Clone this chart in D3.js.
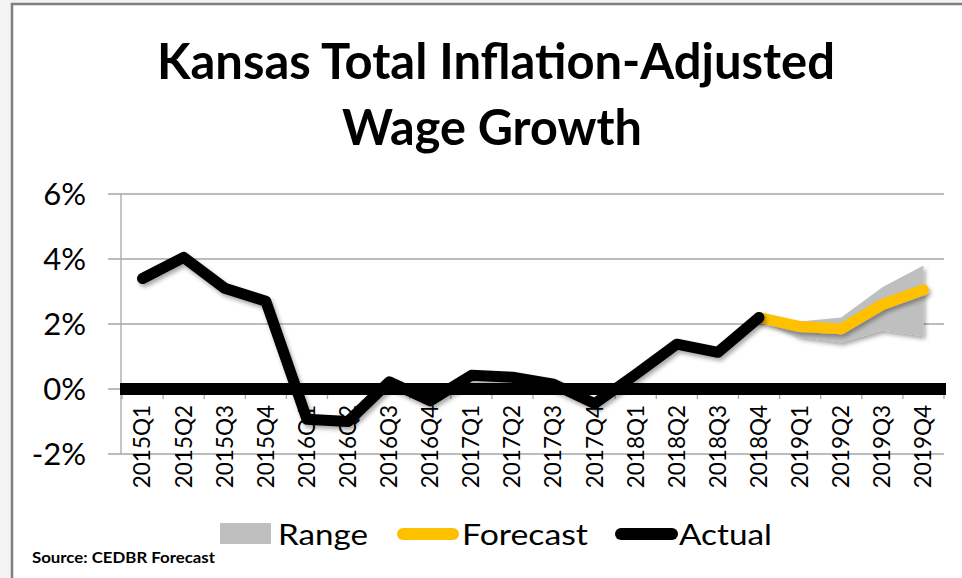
<!DOCTYPE html>
<html>
<head>
<meta charset="utf-8">
<script src="https://cdn.jsdelivr.net/npm/d3@7"></script>
<style>
  html, body { margin: 0; padding: 0; background: #f3f3f3; }
  svg { display: block; }
</style>
</head>
<body>
<svg id="chart" width="962" height="578"></svg>
<script>
const categories = ["2015Q1","2015Q2","2015Q3","2015Q4","2016Q1","2016Q2","2016Q3","2016Q4",
  "2017Q1","2017Q2","2017Q3","2017Q4","2018Q1","2018Q2","2018Q3","2018Q4",
  "2019Q1","2019Q2","2019Q3","2019Q4"];
const actual = [3.4, 4.05, 3.1, 2.7, -0.93, -1.0, 0.22, -0.36, 0.42, 0.36, 0.15, -0.45,
  0.45, 1.38, 1.13, 2.2, null, null, null, null];
const forecast = [null, null, null, null, null, null, null, null, null, null, null, null,
  null, null, null, 2.2, 1.92, 1.85, 2.6, 3.05];
const rangeLow = [null, null, null, null, null, null, null, null, null, null, null, null,
  null, null, null, 2.2, 1.6, 1.43, 1.8, 1.62];
const rangeHigh = [null, null, null, null, null, null, null, null, null, null, null, null,
  null, null, null, 2.2, 2.08, 2.2, 3.13, 3.8];
const yTicks = [-2, 0, 2, 4, 6];
const yTickLabels = ["-2%", "0%", "2%", "4%", "6%"];
const titleLines = ["Kansas Total Inflation-Adjusted", "Wage Growth"];
const legendLabels = ["Range", "Forecast", "Actual"];
const sourceText = "Source: CEDBR Forecast";

const svg = d3.select("#chart");
const font = "Lato, 'Open Sans', sans-serif";

// chart frame
svg.append("rect").attr("x", 0).attr("y", 0).attr("width", 962).attr("height", 578).attr("fill", "#f3f3f3");
svg.append("rect").attr("x", 12).attr("y", 4).attr("width", 950).attr("height", 574).attr("fill", "#ffffff");
svg.append("line").attr("x1", 11).attr("x2", 962).attr("y1", 4).attr("y2", 4).attr("stroke", "#7f7f7f").attr("stroke-width", 2.5);
svg.append("line").attr("x1", 12).attr("x2", 12).attr("y1", 3).attr("y2", 578).attr("stroke", "#7f7f7f").attr("stroke-width", 2.5);

// filters
const defs = svg.append("defs");
const f = defs.append("filter").attr("id", "shadow").attr("x", "-10%").attr("y", "-20%").attr("width", "130%").attr("height", "160%");
f.append("feDropShadow").attr("dx", 2).attr("dy", 3).attr("stdDeviation", 2.2)
  .attr("flood-color", "#000").attr("flood-opacity", 0.35);

// title
const titleLayout = [{y: 79, len: 678, cx: 496}, {y: 145, len: 300, cx: 492}];
svg.selectAll("text.title").data(titleLines).join("text")
  .attr("class", "title")
  .attr("x", (d, i) => titleLayout[i].cx)
  .attr("y", (d, i) => titleLayout[i].y)
  .attr("text-anchor", "middle")
  .attr("font-family", font).attr("font-weight", "bold").attr("font-size", 50)
  .attr("textLength", (d, i) => titleLayout[i].len)
  .attr("lengthAdjust", "spacingAndGlyphs")
  .attr("fill", "#000")
  .text(d => d);

// scales
const x = d3.scaleBand().domain(categories).range([122, 944]).paddingInner(0).paddingOuter(0);
const y = d3.scaleLinear().domain([-2, 6]).range([454, 194]);
const cx = c => x(c) + x.bandwidth() / 2;

// gridlines
svg.append("g").selectAll("line").data(yTicks).join("line")
  .attr("x1", 108).attr("x2", 944)
  .attr("y1", d => y(d)).attr("y2", d => y(d))
  .attr("stroke", "#a6a6a6").attr("stroke-width", 1.3);

// y axis line
svg.append("line").attr("x1", 121).attr("x2", 121).attr("y1", y(6)).attr("y2", y(-2))
  .attr("stroke", "#a6a6a6").attr("stroke-width", 1.3);

// y tick labels
svg.append("g").selectAll("text").data(yTicks).join("text")
  .attr("x", 86).attr("y", d => y(d) + 11)
  .attr("text-anchor", "end")
  .attr("font-family", font).attr("font-size", 31).attr("fill", "#000")
  .text((d, i) => yTickLabels[i]);

// x tick marks (category boundaries)
const bounds = categories.map(c => x(c)).concat([x(categories[categories.length - 1]) + x.bandwidth()]);
svg.append("g").selectAll("line").data(bounds).join("line")
  .attr("x1", d => d).attr("x2", d => d)
  .attr("y1", y(0)).attr("y2", y(0) + 10)
  .attr("stroke", "#a6a6a6").attr("stroke-width", 1.3);

// x labels
svg.append("g").selectAll("text").data(categories).join("text")
  .attr("transform", d => `translate(${cx(d)},405) rotate(-90)`)
  .attr("text-anchor", "end")
  .attr("dy", "0.35em")
  .attr("font-family", font).attr("font-size", 22.5).attr("fill", "#000")
  .text(d => d);

// range area
const rangeData = categories.map((c, i) => ({c, lo: rangeLow[i], hi: rangeHigh[i]})).filter(d => d.lo != null);
svg.append("path").datum(rangeData)
  .attr("d", d3.area().x(d => cx(d.c)).y0(d => y(d.lo)).y1(d => y(d.hi)))
  .attr("fill", "#bfbfbf")
  .attr("filter", "url(#shadow)");

// zero line (thick black axis)
svg.append("line")
  .attr("x1", 120).attr("x2", 946)
  .attr("y1", y(0)).attr("y2", y(0))
  .attr("stroke", "#000").attr("stroke-width", 12);

// lines
const lineGen = d3.line().defined(d => d.v != null).x(d => cx(d.c)).y(d => y(d.v));
const actualData = categories.map((c, i) => ({c, v: actual[i]}));
const forecastData = categories.map((c, i) => ({c, v: forecast[i]}));

svg.append("path").datum(forecastData)
  .attr("d", lineGen)
  .attr("fill", "none").attr("stroke", "#ffc000").attr("stroke-width", 11)
  .attr("stroke-linecap", "round").attr("stroke-linejoin", "round")
  .attr("filter", "url(#shadow)");

svg.append("path").datum(actualData)
  .attr("d", lineGen)
  .attr("fill", "none").attr("stroke", "#000").attr("stroke-width", 11)
  .attr("stroke-linecap", "round").attr("stroke-linejoin", "round")
  .attr("filter", "url(#shadow)");

// legend
const lg = svg.append("g");
lg.append("rect").attr("x", 220).attr("y", 523).attr("width", 51).attr("height", 21).attr("fill", "#bfbfbf");
lg.append("line").attr("x1", 403).attr("x2", 453).attr("y1", 534).attr("y2", 534)
  .attr("stroke", "#ffc000").attr("stroke-width", 12).attr("stroke-linecap", "round");
lg.append("line").attr("x1", 621).attr("x2", 672).attr("y1", 534).attr("y2", 534)
  .attr("stroke", "#000").attr("stroke-width", 12).attr("stroke-linecap", "round");
const legendPos = [{x: 278, len: 90}, {x: 462, len: 126}, {x: 679, len: 93}];
lg.selectAll("text").data(legendLabels).join("text")
  .attr("x", (d, i) => legendPos[i].x).attr("y", 545)
  .attr("font-family", font).attr("font-size", 29).attr("fill", "#000")
  .attr("textLength", (d, i) => legendPos[i].len)
  .attr("lengthAdjust", "spacingAndGlyphs")
  .text(d => d);

// source
svg.append("text").attr("x", 32).attr("y", 563)
  .attr("font-family", font).attr("font-weight", "bold").attr("font-size", 15)
  .attr("textLength", 183).attr("lengthAdjust", "spacingAndGlyphs")
  .attr("fill", "#000")
  .text(sourceText);
</script>
</body>
</html>
